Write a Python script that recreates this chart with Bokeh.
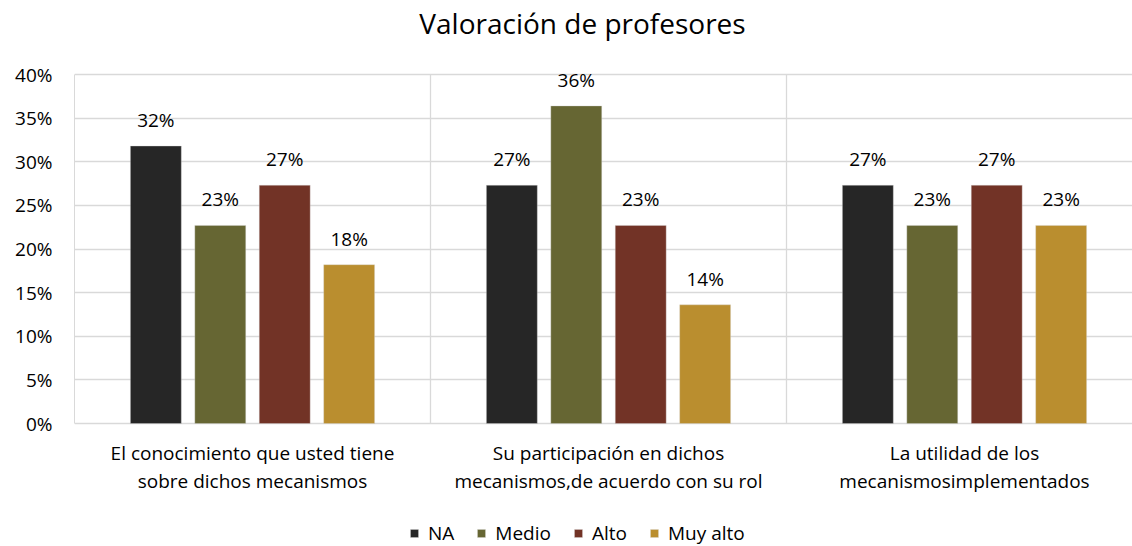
from bokeh.plotting import figure
from bokeh.models import (Range1d, FixedTicker, NumeralTickFormatter, ColumnDataSource,
                          LabelSet, Label, Legend, LegendItem)
from bokeh.core.properties import value
from bokeh.embed import file_html
from bokeh.resources import INLINE

# ---- data ----
title_text = "Valoración de profesores"
categories = [
    "El conocimiento que usted tiene\nsobre dichos mecanismos",
    "Su participación en dichos\nmecanismos,de acuerdo con su rol",
    "La utilidad de los\nmecanismosimplementados",
]
series_names = ["NA", "Medio", "Alto", "Muy alto"]
na_vals = [0.318, 0.273, 0.273]
medio_vals = [0.227, 0.364, 0.227]
alto_vals = [0.273, 0.227, 0.273]
muyalto_vals = [0.182, 0.136, 0.227]
y_ticks = [0, 0.05, 0.10, 0.15, 0.20, 0.25, 0.30, 0.35, 0.40]

colors = ["#262626", "#666633", "#723326", "#BA8E2F"]
all_vals = [na_vals, medio_vals, alto_vals, muyalto_vals]

FONT = "Open Sans"
TXT = "#000000"
FS = "19px"
GRID = "#d9d9d9"

# value axis 0..40% spans 349px (74px below the top, 123px above the bottom);
# the frame covers the whole height so title, labels and legend stay inside it
ymax = 0.40
ymin = -ymax * 123 / 349
ytop = ymax + ymax * 74 / 349
p = figure(width=1132, height=546, output_backend="svg", toolbar_location=None,
           x_range=Range1d(0, 1058 / 356), y_range=Range1d(ymin, ytop),
           min_border_left=74, min_border_right=0, min_border_top=0, min_border_bottom=0)
p.outline_line_color = None
p.background_fill_color = "white"

# title
p.add_layout(Label(x=508, y=524, x_units="screen", y_units="screen", text=title_text,
                   text_align="center", text_baseline="middle", text_font=FONT,
                   text_font_size="28px", text_color=TXT))

n = len(series_names)
step = 0.181
width = 0.143
legend_items = []
for k, (name, vals, col) in enumerate(zip(series_names, all_vals, colors)):
    off = (k - (n - 1) / 2) * step
    xs = [i + 0.5 + off for i in range(len(categories))]
    src = ColumnDataSource(dict(x=xs, top=vals,
                                lab=[f"{round(v * 100):d}%" for v in vals]))
    r = p.vbar(x="x", top="top", width=width, source=src, fill_color=col,
               line_color=GRID, line_width=0.6, line_alpha=0.6)
    legend_items.append(LegendItem(label=name, renderers=[r]))
    p.add_layout(LabelSet(x="x", y="top", text="lab", source=src, text_align="center",
                          text_baseline="alphabetic", y_offset=19, text_font=value(FONT),
                          text_font_size=value(FS), text_color=TXT))

# category labels under the value axis, each line centred
lines = [c.split("\n") for c in categories]
for j in range(max(len(l) for l in lines)):
    cat_src = ColumnDataSource(dict(x=[i + 0.5 for i in range(len(categories))],
                                    y=[0] * len(categories),
                                    text=[l[j] if j < len(l) else "" for l in lines]))
    p.add_layout(LabelSet(x="x", y="y", text="text", source=cat_src, text_align="center",
                          text_baseline="middle", y_offset=-29 - 28 * j,
                          text_font=value(FONT), text_font_size=value(FS),
                          text_color=TXT))

# axes
p.yaxis.ticker = FixedTicker(ticks=y_ticks)
p.yaxis.bounds = (0, ymax)
p.yaxis.formatter = NumeralTickFormatter(format="0%")
p.yaxis.major_label_text_font = FONT
p.yaxis.major_label_text_font_size = FS
p.yaxis.major_label_text_color = TXT
p.yaxis.major_tick_line_color = None
p.yaxis.minor_tick_line_color = None
p.yaxis.axis_line_color = GRID
p.yaxis.major_label_standoff = 16
p.xaxis.visible = False

p.ygrid.ticker = FixedTicker(ticks=y_ticks)
p.ygrid.grid_line_color = GRID
p.ygrid.grid_line_width = 1.3
p.xgrid.ticker = FixedTicker(ticks=list(range(len(categories) + 1)))
p.xgrid.cross_bounds = (0, ymax)
p.xgrid.grid_line_color = GRID
p.xgrid.grid_line_width = 1.3

legend = Legend(items=legend_items, orientation="horizontal", location=(335, 0),
                glyph_width=10, glyph_height=10, label_standoff=9, spacing=22,
                padding=0, margin=0, border_line_color=None, background_fill_alpha=0,
                label_text_font=FONT, label_text_font_size=FS, label_text_color=TXT)
p.add_layout(legend, "center")

open("out.html", "w").write(file_html(p, INLINE))
